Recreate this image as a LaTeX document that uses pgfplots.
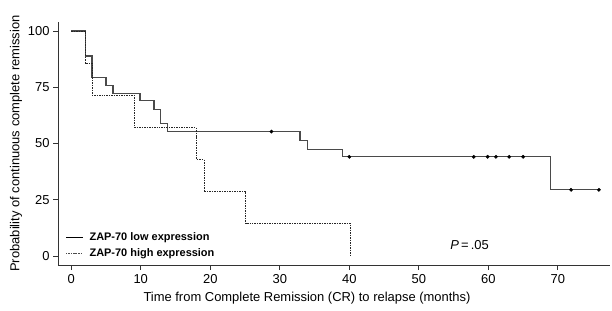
\documentclass[border=0pt]{standalone}
\usepackage{pgfplots}
\pgfplotsset{compat=1.18}
\usepackage{fontspec}
\setmainfont{Liberation Sans}
\definecolor{solidc}{HTML}{4A4A4A}
\begin{document}
\begin{tikzpicture}[x=1bp,y=1bp]
\useasboundingbox (0,0) rectangle (612,310);
\begin{axis}[
  at={(58bp,45bp)}, anchor=south west,
  width=552bp, height=243bp, scale only axis,
  xmin=-1.9, xmax=77.5, ymin=-4, ymax=104,
  axis lines=left,
  axis line style={-, color=black!80, line width=0.8pt},
  xtick={0,10,...,70}, ytick={0,25,50,75,100},
  tick align=outside, major tick length=5bp,
  tick style={color=black!80, line width=0.8pt},
  minor tick num=0,
  /pgf/number format/assume math mode=true,
  tick label style={font=\fontsize{13}{15}\selectfont},
  xticklabel style={yshift=-1bp},
  label style={font=\fontsize{13}{15.5}\selectfont},
  xlabel={Time from Complete Remission (CR) to relapse (months)},
  ylabel={Probability of continuous complete remission},
  xlabel style={yshift=-2bp, xshift=-27bp},
  ylabel style={yshift=-1bp},
  legend style={at={(axis cs:-1.0,-2.5)}, anchor=south west, draw=none, fill=none,
    font=\fontsize{11}{13}\selectfont\bfseries, row sep=3bp, inner sep=1bp},
  legend cell align=left,
  legend image post style={xshift=-2bp},
  clip=false,
]
\addlegendimage{black, line width=1.1pt}
\addlegendentry{\hspace{4bp}ZAP-70 low expression}
\addlegendimage{black!70, dash pattern=on 1.5pt off 1pt, line width=0.8pt}
\addlegendentry{\hspace{4bp}ZAP-70 high expression}

\addplot[const plot, color=solidc, line width=1.2pt] coordinates {
(0,100)(2,88.9)(3,79.2)(5,75.9)(6,72.2)(9.9,69.2)(11.9,65.1)(12.8,58.8)(13.8,55.3)(32.9,51.5)(34,47.4)(39,44.1)(68.9,29.4)(76,29.4)};
\addplot[const plot, color=black!85, dash pattern=on 1.5pt off 1pt, line width=1pt] coordinates {
(0,100)(2,85.7)(3,71.4)(9.1,57.1)(18,42.9)(19.1,28.6)(25.1,14.3)(40.2,0)};
\addplot[only marks, mark=*, mark size=1.7pt, color=black] coordinates {
(28.8,55.3)(40,44.1)(57.9,44.1)(59.9,44.1)(61.1,44.1)(63,44.1)(65,44.1)(71.9,29.4)(75.9,29.4)};
\node[font=\fontsize{13}{15}\selectfont] at (axis cs:57.3,5) {\textit{P}\,=\,.05};
\end{axis}
\end{tikzpicture}
\end{document}
